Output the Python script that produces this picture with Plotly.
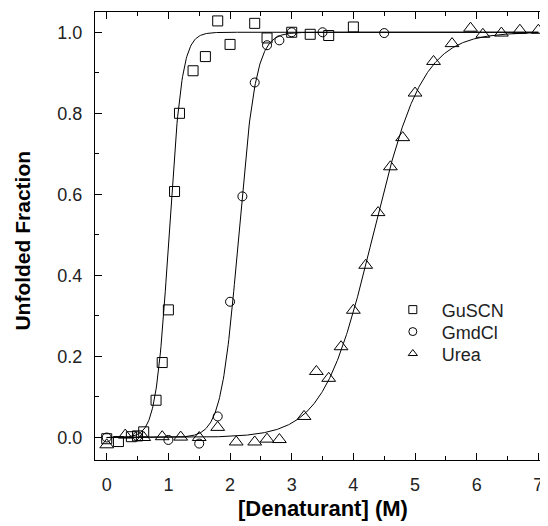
import numpy as np
import plotly.graph_objects as go

# ---- data ----
guscn_x = [0.0, 0.19, 0.4, 0.5, 0.6, 0.8, 0.9, 1.0, 1.1, 1.18, 1.4, 1.6, 1.8, 2.0, 2.4, 2.6, 3.0, 3.3, 3.6, 4.0]
guscn_y = [-0.003, -0.01, 0.002, 0.004, 0.014, 0.092, 0.185, 0.315, 0.607, 0.800, 0.905, 0.940, 1.028, 0.970, 1.022, 0.986, 1.000, 0.995, 0.992, 1.013]

gmdcl_x = [0.0, 0.5, 1.0, 1.5, 1.8, 2.0, 2.2, 2.4, 2.6, 2.8, 3.0, 3.5, 4.5]
gmdcl_y = [0.0, 0.003, -0.006, -0.015, 0.052, 0.335, 0.595, 0.876, 0.968, 0.980, 1.000, 1.000, 0.998]

urea_x = [0.0, 0.3, 0.6, 0.9, 1.2, 1.5, 1.8, 2.1, 2.4, 2.6, 2.8, 3.2, 3.4, 3.6, 3.8, 4.0, 4.2, 4.4,
          4.6, 4.8, 5.0, 5.3, 5.6, 5.9, 6.1, 6.4, 6.7, 7.0]
urea_y = [-0.018, 0.006, 0.0, 0.002, 0.001, 0.0, 0.025, -0.011, -0.011, -0.004, -0.005, 0.052, 0.163,
          0.146, 0.224, 0.314, 0.425, 0.555, 0.668, 0.740, 0.850, 0.928, 0.972, 1.010, 0.995, 0.998,
          1.005, 1.005]

series_names = ["GuSCN", "GmdCl", "Urea"]
# two-state fit parameters (midpoint [D]1/2 and transition width)
fit_midpoints = [1.01, 2.14, 4.32]
fit_widths = [0.105, 0.14, 0.40]

x_ticks = [0, 1, 2, 3, 4, 5, 6, 7]
y_ticks = [0.0, 0.2, 0.4, 0.6, 0.8, 1.0]
y_tick_labels = ["0.0", "0.2", "0.4", "0.6", "0.8", "1.0"]

x_title = "[Denaturant] (M)"
y_title = "Unfolded Fraction"

# ---- figure ----
FONT = "Liberation Sans, Arial, sans-serif"
fig = go.Figure()

xfit = np.linspace(0, 7, 701)
for m, s in zip(fit_midpoints, fit_widths):
    fig.add_trace(go.Scatter(x=xfit, y=1.0 / (1.0 + np.exp(-(xfit - m) / s)), mode="lines",
                             line=dict(color="black", width=1), showlegend=False, hoverinfo="skip"))

symbols = ["square-open", "circle-open", "triangle-up-open"]
sizes = [10, 9, 12]
for xs, ys, sym, sz in zip([guscn_x, gmdcl_x, urea_x], [guscn_y, gmdcl_y, urea_y], symbols, sizes):
    fig.add_trace(go.Scatter(x=xs, y=ys, mode="markers",
                             marker=dict(symbol=sym, size=sz, color="black", line=dict(width=1, color="black")),
                             showlegend=False))

# legend entries (smaller symbols as in the reference), one legend box per row
legend_ids = ["legend", "legend2", "legend3"]
legend_rows = [0.335, 0.286, 0.237]
for name, sym, lid in zip(series_names, symbols, legend_ids):
    fig.add_trace(go.Scatter(x=[None], y=[None], mode="markers", name=name, legend=lid,
                             marker=dict(symbol=sym, size=8, color="black", line=dict(width=1, color="black"))))

legend_common = dict(x=0.639, xanchor="left", yanchor="middle", bgcolor="rgba(0,0,0,0)",
                     font=dict(family=FONT, size=18, color="#222"), itemwidth=48)

tickfont = dict(family=FONT, size=18, color="#222")

layout_legends = {lid: dict(legend_common, y=ry) for lid, ry in zip(legend_ids, legend_rows)}

# the page body adds an 8px margin, so the figure is 8px smaller than the window
fig.update_layout(
    width=540, height=518,
    margin=dict(l=87, r=1, t=4, b=66),
    plot_bgcolor="white", paper_bgcolor="white",
    xaxis=dict(range=[-0.19, 7.14], tickvals=x_ticks, ticks="inside", ticklen=7, tickwidth=1,
               tickcolor="black", showline=True, linecolor="black", linewidth=1, mirror="ticks",
               showgrid=False, zeroline=False, tickfont=tickfont, ticklabelstandoff=8,
               automargin=False,
               minor=dict(dtick=0.5, ticks="inside", ticklen=4, tickcolor="black", showgrid=False)),
    yaxis=dict(range=[-0.0555, 1.05], tickvals=y_ticks, ticktext=y_tick_labels, ticks="inside",
               ticklen=7, tickwidth=1, tickcolor="black", showline=True, linecolor="black",
               linewidth=1, mirror="ticks", showgrid=False, zeroline=False, tickfont=tickfont,
               ticklabelstandoff=8, automargin=False,
               minor=dict(dtick=0.1, ticks="inside", ticklen=4, tickcolor="black", showgrid=False)),
    annotations=[
        dict(text="<b>" + x_title + "</b>", xref="paper", yref="paper", x=0.504, y=-0.109,
             xanchor="center", yanchor="middle", showarrow=False,
             font=dict(family=FONT, size=22, color="black")),
        dict(text="<b>" + y_title + "</b>", xref="paper", yref="paper", x=-0.160, y=0.489,
             xanchor="center", yanchor="middle", showarrow=False, textangle=-90,
             font=dict(family=FONT, size=21, color="black")),
    ],
    **layout_legends,
)

fig.write_html("out.html")
